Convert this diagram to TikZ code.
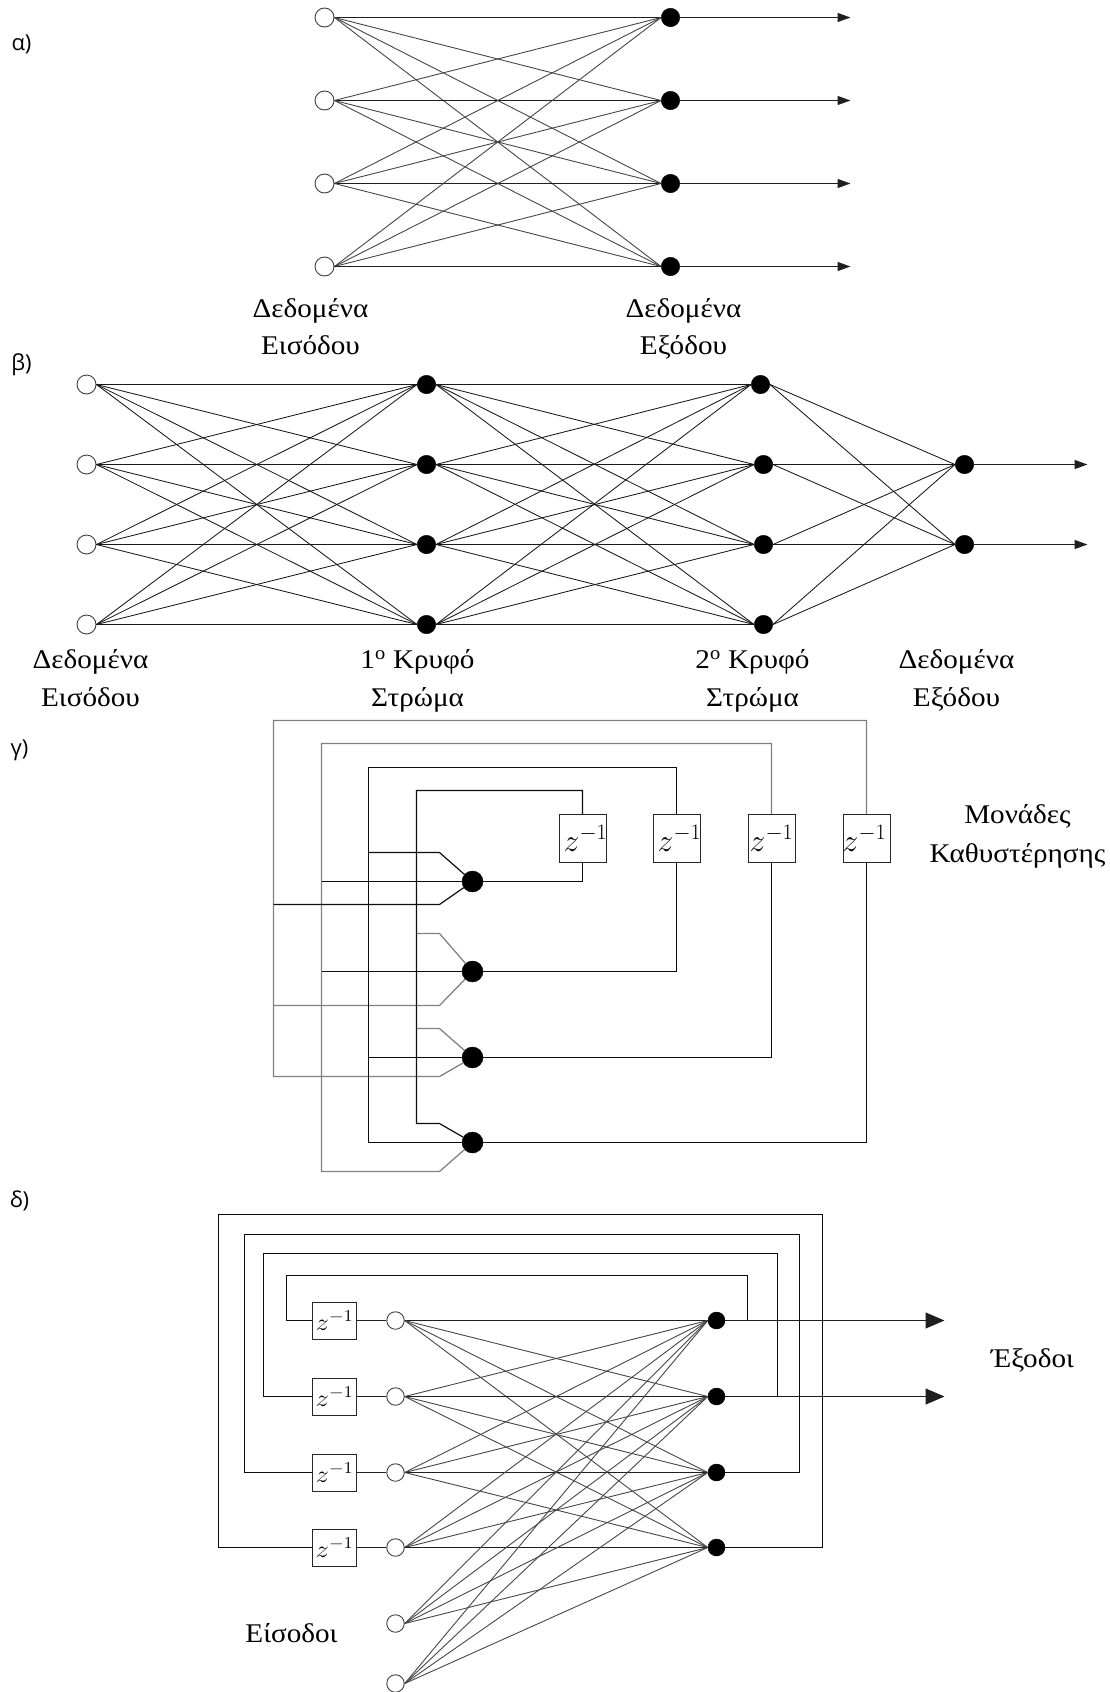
\documentclass[tikz,border=0pt]{standalone}
\usepackage{fontspec}
\setmainfont[FakeStretch=1.08]{Liberation Serif}
\newfontfamily\capfont{Open Sans}
\usetikzlibrary{arrows.meta}
\tikzset{
  opennode/.style={circle,draw=black!75,fill=white,line width=0.9pt,minimum size=19pt,inner sep=0pt},
  fullnode/.style={circle,draw=black,fill=black,minimum size=18.5pt,inner sep=0pt},
  bignode/.style={circle,draw=black,fill=black,minimum size=21pt,inner sep=0pt},
  dnode/.style={circle,draw=black,fill=black,minimum size=17pt,inner sep=0pt},
  dopen/.style={circle,draw=black!75,fill=white,line width=0.9pt,minimum size=17.5pt,inner sep=0pt},
  thin link/.style={draw=black!72,line width=0.9pt},
  beta link/.style={draw=black!90,line width=0.85pt},
  main link/.style={draw=black!88,line width=1.1pt},
  grey wire/.style={draw=black!50,line width=1.25pt},
  dark wire/.style={draw=black!95,line width=1.2pt},
  small tip/.style={-{Stealth[length=13pt,width=9pt,inset=0pt]}},
  large tip/.style={-{Stealth[length=19pt,width=16pt,inset=0pt]}},
  delaybig/.style={draw=black!85,fill=white,line width=1pt,minimum width=47pt,minimum height=48pt,inner sep=0pt},
  delaysmall/.style={draw=black!85,fill=white,line width=1pt,minimum width=44.5pt,minimum height=37pt,inner sep=0pt},
  lab/.style={font=\fontsize{27}{27}\selectfont,inner sep=0pt,anchor=base},
  captext/.style={font=\capfont\fontsize{22}{22}\selectfont,inner sep=0pt,anchor=center},
}
\newcommand{\zinvbig}{\scalebox{1.27}{\fontsize{24}{24}\selectfont$z^{-1}$}}
\newcommand{\zinvsmall}{\scalebox{1.3}[1.15]{\fontsize{21}{21}\selectfont$z^{-1}$}}
\begin{document}
\begin{tikzpicture}[x=1pt,y=-1pt]
\useasboundingbox (0,0) rectangle (1110,1692);
\fill[white] (0,0) rectangle (1110,1692);
\begin{scope}[shift={(0.5,0.5)}]
% captions
\node[captext] (capa) at (21,44) {α)};
\node[captext] (capb) at (21,364) {β)};
\node[captext] (capc) at (19,750) {γ)};
\node[captext] (capd) at (19,1200) {δ)};
% ---------- panel a
\foreach \i/\y in {1/17,2/100,3/183,4/266}{
  \node[opennode] (ai\i) at (324,\y) {};
  \node[fullnode] (ao\i) at (670,\y) {};
  \coordinate (ae\i) at (850,\y);
}
\foreach \i in {1,...,4}\foreach \j in {1,...,4}{
  \ifnum\i=\j \draw[main link] (ai\i.east) -- (ao\j.west);
  \else \draw[thin link] (ai\i.east) -- (ao\j.west);\fi
}
\foreach \i in {1,...,4}\draw[main link,small tip] (ao\i.east) -- (ae\i);
\node[lab] (la1) at (310,317) {Δεδομένα};
\node[lab] (la2) at (310,354) {Εισόδου};
\node[lab] (la3) at (683,317) {Δεδομένα};
\node[lab] (la4) at (683,354) {Εξόδου};
% ---------- panel b
\foreach \i/\y in {1/384,2/464,3/544,4/624}{
  \node[opennode] (bi\i) at (86,\y) {};
  \node[fullnode] (bh\i) at (426,\y) {};
}
\node[fullnode] (bk1) at (760,384) {};
\node[fullnode] (bk2) at (763,464) {};
\node[fullnode] (bk3) at (763,544) {};
\node[fullnode] (bk4) at (763,624) {};
\node[fullnode] (bo1) at (964,464) {};
\node[fullnode] (bo2) at (964,544) {};
\coordinate (be1) at (1087,464);
\coordinate (be2) at (1087,544);
\foreach \i in {1,...,4}\foreach \j in {1,...,4}{
  \draw[beta link] (bi\i.east) -- (bh\j.west);
  \draw[beta link] (bh\i.east) -- (bk\j.west);
}
\foreach \i in {1,...,4}\foreach \j in {1,2}{
  \draw[beta link] (bk\i.east) -- (bo\j.west);
}
\foreach \j in {1,2}\draw[main link,small tip] (bo\j.east) -- (be\j);
\node[lab] (lb1) at (90,668) {Δεδομένα};
\node[lab] (lb2) at (90,706) {Εισόδου};
\node[lab] (lb3) at (417,668) {1\textsuperscript{ο} Κρυφό};
\node[lab] (lb4) at (417,706) {Στρώμα};
\node[lab] (lb5) at (752,668) {2\textsuperscript{ο} Κρυφό};
\node[lab] (lb6) at (752,706) {Στρώμα};
\node[lab] (lb7) at (956,668) {Δεδομένα};
\node[lab] (lb8) at (956,706) {Εξόδου};
% ---------- panel c
\foreach \i/\x/\y in {1/472/881,2/472/971,3/472/1057,4/472/1142}{
  \node[bignode] (cn\i) at (\x,\y) {};
}
\foreach \i/\x/\s in {1/582/6,2/676/6,3/771/0,4/866/-4}{
  \node[delaybig] (cd\i) at (\x,838) {\makebox[0pt]{\hspace{\s pt}\zinvbig}};
}
% corners of the feedback loops
\coordinate (cf1) at (416,790);
\coordinate (cf2) at (368,767);
\coordinate (cf3) at (321,743);
\coordinate (cf4) at (273,720);
% ends and bends of the inputs
\coordinate (cu1) at (368,852);  \coordinate (cv1) at (439,852);
\coordinate (cm1) at (321,881);
\coordinate (cl1) at (273,904);  \coordinate (cw1) at (439,904);
\coordinate (cu2) at (416,933);  \coordinate (cv2) at (439,933);
\coordinate (cm2) at (321,971);
\coordinate (cl2) at (273,1005); \coordinate (cw2) at (439,1005);
\coordinate (cu3) at (416,1028); \coordinate (cv3) at (439,1028);
\coordinate (cm3) at (368,1057);
\coordinate (cl3) at (273,1076); \coordinate (cw3) at (439,1076);
\coordinate (cu4) at (416,1123); \coordinate (cv4) at (439,1123);
\coordinate (cm4) at (368,1142);
\coordinate (cl4) at (321,1171); \coordinate (cw4) at (439,1171);
% loops
\draw[grey wire] (cd4.north) |- (cf4) -- (cl3) -- (cw3) -- (cn3);
\draw[grey wire] (cd3.north) |- (cf3) -- (cl4) -- (cw4) -- (cn4);
\draw[grey wire] (cu2) -- (cv2) -- (cn2);
\draw[grey wire] (cl2) -- (cw2) -- (cn2);
\draw[grey wire] (cu3) -- (cv3) -- (cn3);
\draw[dark wire] (cd2.north) |- (cf2) -- (cm4) -- (cn4);
\draw[dark wire] (cd1.north) |- (cf1) -- (cu4) -- (cv4) -- (cn4);
% inputs
\draw[dark wire] (cu1) -- (cv1) -- (cn1);
\draw[dark wire] (cm1) -- (cn1);
\draw[dark wire] (cl1) -- (cw1) -- (cn1);
\draw[dark wire] (cm2) -- (cn2);
\draw[dark wire] (cm3) -- (cn3);
% outputs
\foreach \i in {1,...,4}\draw[dark wire] (cn\i) -| (cd\i.south);
\node[lab] (lc1) at (1017,823) {Μονάδες};
\node[lab] (lc2) at (1017,862) {Καθυστέρησης};
% ---------- panel d
\foreach \i/\y in {1/1320,2/1396,3/1472,4/1547}{
  \node[dopen] (di\i) at (395,\y) {};
  \node[dnode] (do\i) at (716,\y) {};
  \node[delaysmall] (dz\i) at (334,\y) {\zinvsmall};
  \draw[main link] (dz\i) -- (di\i);
}
\node[dopen] (di5) at (395,1623) {};
\node[dopen] (di6) at (395,1683) {};
\coordinate (de1) at (944,1320);
\coordinate (de2) at (944,1396);
\foreach \i in {1,...,6}\foreach \j in {1,...,4}{
  \ifnum\i=\j \draw[main link] (di\i.east) -- (do\j.west);
  \else \draw[thin link] (di\i.east) -- (do\j.west);\fi
}
\draw[main link,large tip] (do1) -- (de1);
\draw[main link,large tip] (do2) -- (de2);
% feedback
\coordinate (dr1) at (747,1320); \coordinate (dc1) at (286,1275);
\coordinate (dr2) at (777,1396); \coordinate (dc2) at (263,1253);
\coordinate (dr3) at (799,1472); \coordinate (dc3) at (244,1234);
\coordinate (dr4) at (822,1547); \coordinate (dc4) at (218,1214);
\draw[dark wire] (dr1) |- (dc1) |- (dz1.west);
\draw[dark wire] (dr2) |- (dc2) |- (dz2.west);
\draw[dark wire] (do3) -- (dr3) |- (dc3) |- (dz3.west);
\draw[dark wire] (do4) -- (dr4) |- (dc4) |- (dz4.west);
\node[lab] (ld1) at (291,1642) {Είσοδοι};
\node[lab] (ld2) at (1032,1367) {Έξοδοι};
\end{scope}
\end{tikzpicture}
\end{document}
